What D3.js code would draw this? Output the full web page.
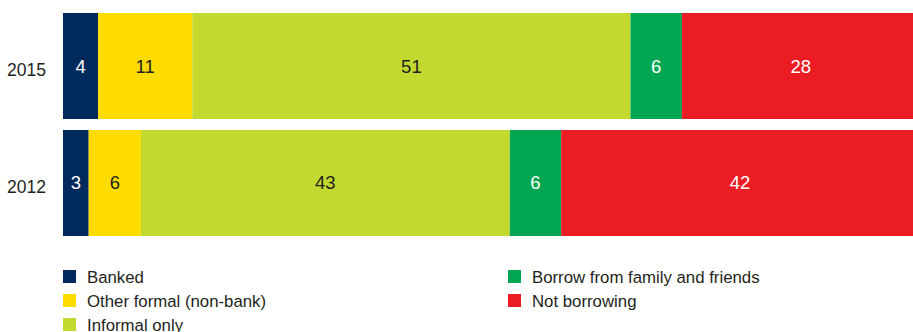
<!DOCTYPE html>
<html>
<head>
<meta charset="utf-8">
<script src="https://cdn.jsdelivr.net/npm/d3@7"></script>
<style>
  html, body { margin: 0; padding: 0; background: #fff; }
  svg text { font-family: "Liberation Sans", Arial, sans-serif; }
</style>
</head>
<body>
<svg id="chart" width="913" height="332"></svg>
<script>
const years = ["2015", "2012"];
const categories = ["Banked", "Other formal (non-bank)", "Informal only", "Borrow from family and friends", "Not borrowing"];
const values2015 = [4.1, 11.0, 51.2, 6.0, 27.8];
const values2012 = [3.0, 6.1, 43.1, 6.0, 41.8];
const colors = ["#002a5c", "#ffdc00", "#c3d92f", "#00a651", "#ec1c24"];
const labelColors = ["#ffffff", "#231f20", "#231f20", "#ffffff", "#ffffff"];

const seriesByYear = { "2015": values2015, "2012": values2012 };
const rows = years.map(y => {
  const o = { year: y };
  categories.forEach((c, i) => o[c] = seriesByYear[y][i]);
  return o;
});

const svg = d3.select("#chart");
const x = d3.scaleLinear().domain([0, 100]).range([63, 919]);
const y = d3.scaleBand().domain(years).range([13, 236]).paddingInner(0.094).paddingOuter(0);
const color = d3.scaleOrdinal().domain(categories).range(colors);
const lblColor = d3.scaleOrdinal().domain(categories).range(labelColors);

const stacked = d3.stack().keys(categories)(rows);
const fmt = d3.format(".0f");

const layers = svg.append("g").selectAll("g").data(stacked).join("g")
  .attr("fill", d => color(d.key));

layers.selectAll("rect").data(d => d.map(p => ({ p, key: d.key }))).join("rect")
  .attr("x", d => x(d.p[0]))
  .attr("y", d => y(d.p.data.year))
  .attr("width", d => x(d.p[1]) - x(d.p[0]))
  .attr("height", y.bandwidth());

layers.selectAll("text").data(d => d.map(p => ({ p, key: d.key }))).join("text")
  .attr("x", d => (x(d.p[0]) + x(d.p[1])) / 2)
  .attr("y", d => y(d.p.data.year) + y.bandwidth() / 2 + 6.5)
  .attr("text-anchor", "middle")
  .attr("font-size", 18.5)
  .attr("fill", d => lblColor(d.key))
  .text(d => fmt(d.p[1] - d.p[0]));

// year axis
const yAxis = d3.axisLeft(y).tickSize(0).tickPadding(17);
const ag = svg.append("g").attr("transform", "translate(63,0)").call(yAxis);
ag.select(".domain").remove();
ag.selectAll("text")
  .attr("font-size", 17.5)
  .attr("fill", "#231f20")
  .attr("dy", "0.58em")
  .style("font-family", "\"Liberation Sans\", Arial, sans-serif");

// legend
const legendPos = [
  { x: 63, y: 270 }, { x: 63, y: 294 }, { x: 63, y: 318 },
  { x: 508, y: 270 }, { x: 508, y: 294 }
];
const lg = svg.append("g").selectAll("g").data(categories).join("g")
  .attr("transform", (d, i) => `translate(${legendPos[i].x},${legendPos[i].y})`);
lg.append("rect").attr("width", 13).attr("height", 13).attr("fill", d => color(d));
lg.append("text").attr("x", 24).attr("y", 13)
  .attr("font-size", 16.8)
  .attr("fill", "#231f20")
  .text(d => d);
</script>
</body>
</html>
